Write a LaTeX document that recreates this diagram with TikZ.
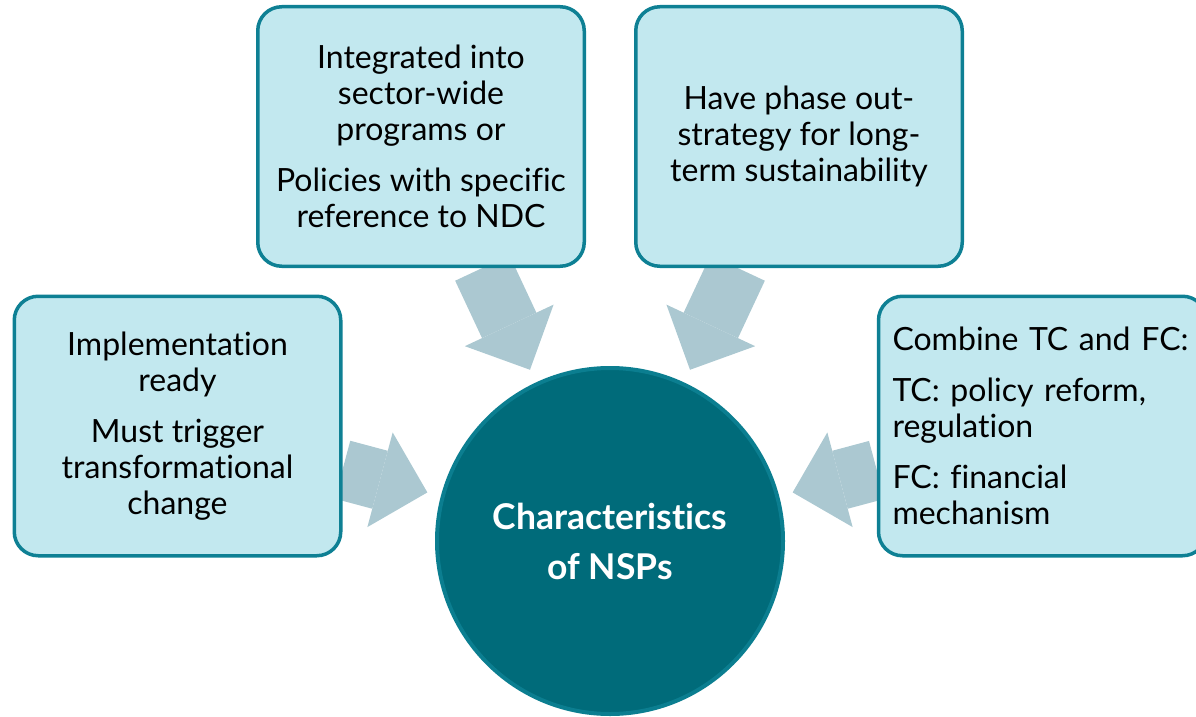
\documentclass[tikz,border=0pt]{standalone}
\usepackage{fontspec}
\setmainfont{Lato}[Ligatures=NoCommon]
\usetikzlibrary{arrows.meta,backgrounds}

\definecolor{boxfill}{HTML}{C2E8EF}
\definecolor{boxline}{HTML}{0E8094}
\definecolor{hubfill}{HTML}{006B7A}
\definecolor{hubline}{HTML}{0B7E90}
\definecolor{arrowfill}{HTML}{ABC8D1}

\tikzset{
    factbox/.style={draw=boxline, fill=boxfill, line width=3.5pt, rounded corners=24pt,
        minimum width=326.5pt, minimum height=259.5pt, inner sep=14pt,
        font=\fontsize{32}{36}\selectfont},
    hub/.style={circle, draw=hubline, fill=hubfill, line width=4pt, minimum size=346pt,
        text=white, align=center, font=\bfseries\fontsize{35.5}{50}\selectfont},
    bigarrow/.style={draw=arrowfill, line width=60pt, shorten >=14pt,
        -{Triangle[width=98pt, length=49pt, line width=0pt]}}
}

\begin{document}
\begin{tikzpicture}[x=1pt, y=-1pt]
    % Fix the page to the picture size
    \useasboundingbox (0,0) rectangle (1196,717);

    % Draw the centre circle
    \node[hub] (nsp) at (610,541) {Characteristics\\of NSPs};

    % Draw the four boxes round it
    \node[factbox, align=center] (integrated) at (421,136.5)
        {Integrated into\\sector-wide\\programs or\\[15pt]Policies with specific\\reference to NDC};
    \node[factbox, align=center] (phaseout) at (799,136.5)
        {Have phase out-\\strategy for long-\\term sustainability};
    \node[factbox, align=center] (ready) at (177.5,426)
        {Implementation\\ready\\[15pt]Must trigger\\transformational\\change};
    \node[factbox, align=left, text width=300pt] (combine) at (1042.5,426)
        {Combine TC and FC:\\[15pt]TC: policy reform,\\regulation\\[15pt]FC: financial\\mechanism};

    % Add the arrows behind the boxes
    \begin{scope}[on background layer]
        \draw[bigarrow] (integrated) -- (nsp);
        \draw[bigarrow] (phaseout) -- (nsp);
        \draw[bigarrow] (ready) -- (nsp);
        \draw[bigarrow] (combine) -- (nsp);
    \end{scope}
\end{tikzpicture}
\end{document}
